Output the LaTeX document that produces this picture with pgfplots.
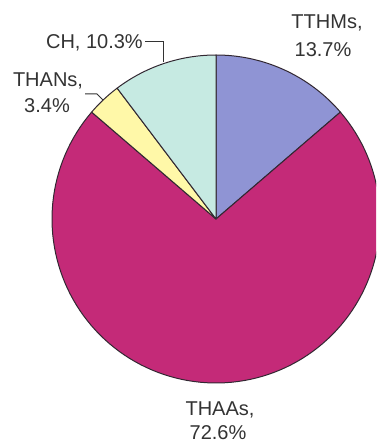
\documentclass[border=0pt]{standalone}
\usepackage{fontspec}
\setmainfont{Liberation Sans}
\usepackage{pgfplots}
\usepackage{pgfplotstable}
\pgfplotsset{compat=1.18}

\definecolor{cTT}{RGB}{143,148,212}
\definecolor{cAA}{RGB}{196,42,120}
\definecolor{cAN}{RGB}{255,248,168}
\definecolor{cCH}{RGB}{198,234,226}
\definecolor{edge}{RGB}{50,40,50}
\definecolor{txt}{RGB}{51,51,51}

% share of each group, in percent, clockwise from 12 o'clock
\pgfplotstableread{
group pct
TTHMs 13.7
THAAs 72.6
THANs 3.4
CH 10.3
}\piedata

\tikzset{lbl/.style={text=txt, font=\fontsize{20}{24}\selectfont}}

\begin{document}
\begin{tikzpicture}
% slice boundaries in degrees
\pgfplotstablegetelem{0}{pct}\of\piedata \pgfmathsetmacro\aA{90-3.6*\pgfplotsretval}
\pgfplotstablegetelem{1}{pct}\of\piedata \pgfmathsetmacro\aB{\aA-3.6*\pgfplotsretval}
\pgfplotstablegetelem{2}{pct}\of\piedata \pgfmathsetmacro\aC{\aB-3.6*\pgfplotsretval}
\pgfplotstablegetelem{3}{pct}\of\piedata \pgfmathsetmacro\aD{\aC-3.6*\pgfplotsretval}
\begin{axis}[
  width=376pt, height=443pt, scale only axis,
  xmin=0, xmax=376, ymin=0, ymax=443, y dir=reverse,
  hide axis, clip mode=global,
  wedge/.style={draw=edge, line width=1pt, line join=round, samples=120, variable=\t},
]
\addplot[wedge, fill=cTT, domain=\aA:90]     ({216+164*cos(t)},{219-164*sin(t)}) -- (axis cs:216,219) -- cycle;
\addplot[wedge, fill=cAA, domain=\aB:\aA]    ({216+164*cos(t)},{219-164*sin(t)}) -- (axis cs:216,219) -- cycle;
\addplot[wedge, fill=cAN, domain=\aC:\aB]    ({216+164*cos(t)},{219-164*sin(t)}) -- (axis cs:216,219) -- cycle;
\addplot[wedge, fill=cCH, domain=\aD:\aC]    ({216+164*cos(t)},{219-164*sin(t)}) -- (axis cs:216,219) -- cycle;

\node[lbl, anchor=base] at (axis cs:327,29) {TTHMs,};
\node[lbl, anchor=base] at (axis cs:323,57) {13.7\%};

\node[lbl, anchor=base east, inner sep=0pt] at (axis cs:143,49) {CH, 10.3\%};
\draw[txt, line width=1pt] (axis cs:145,42) -- (axis cs:163,42) -- (axis cs:163,62);

\node[lbl, anchor=base] at (axis cs:48,87) {THANs,};
\node[lbl, anchor=base] at (axis cs:47,113) {3.4\%};
\draw[txt, line width=1pt] (axis cs:85,94) -- (axis cs:97,94) -- (axis cs:103,100);

\node[lbl, anchor=base] at (axis cs:220,415) {THAAs,};
\node[lbl, anchor=base, inner sep=0pt] at (axis cs:218,439) {72.6\%};
\end{axis}
\pgfresetboundingbox
\useasboundingbox (current axis.south west) rectangle (current axis.north east);
\end{tikzpicture}
\end{document}
